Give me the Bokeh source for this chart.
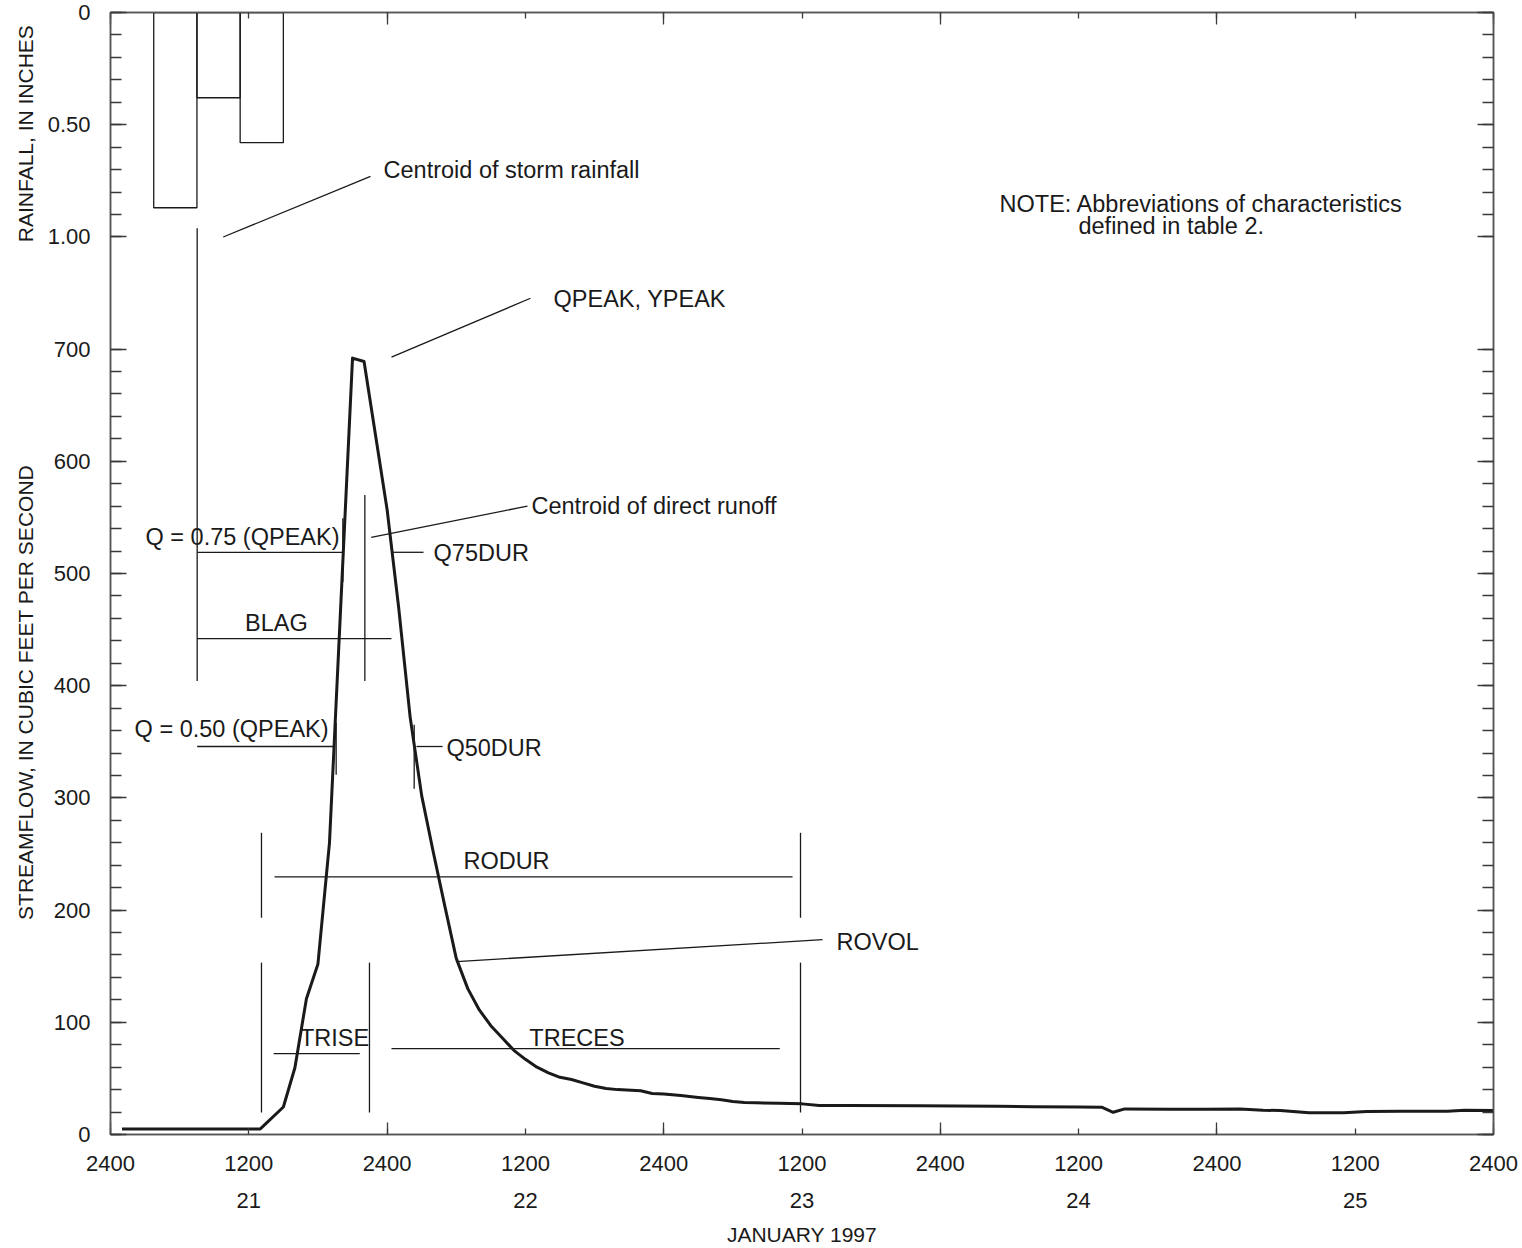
from bokeh.plotting import figure
from bokeh.layouts import row
from bokeh.models import Range1d, LinearAxis, FixedTicker, ColumnDataSource
from bokeh.core.properties import value
from bokeh.embed import file_html
from bokeh.resources import INLINE
import math

# ---------------- data ----------------
# hours after 2400 on January 20, 1997
hours = [1, 13, 15, 16, 17, 18, 19, 20, 21, 22,
         23, 24, 25, 26, 27, 28, 29, 30, 31, 32,
         33, 34, 35, 36, 37, 38, 39, 40, 41, 42,
         43, 44, 46, 47, 48, 49.5, 51, 52, 53, 54,
         55, 56, 58, 60, 61.5, 64, 70, 77, 80, 84,
         86, 87, 88, 92, 95, 98, 100, 101.5, 104, 107,
         109, 112, 116, 117.5, 120]
streamflow = [5, 5, 24.5, 59.5, 121, 152, 260, 476, 692, 689,
              623, 557, 470, 372, 302, 252, 204, 157, 130, 111,
              97, 86, 75, 67, 60, 55, 51, 49, 46, 43,
              41, 40, 39, 36.5, 36, 34.7, 33, 32, 31, 29.5,
              28.5, 28.2, 27.9, 27.3, 25.9, 25.8, 25.6, 25.2, 24.8, 24.5,
              24.3, 19.8, 22.8, 22.6, 22.6, 22.8, 21.6, 21.4, 19.3, 19.3,
              20.5, 20.8, 20.8, 21.6, 21.4]

rain_start = [3.75, 7.5, 11.25]
rain_end = [7.5, 11.25, 15.0]
rain_depth = [0.87, 0.38, 0.58]

x_ticks = [0, 12, 24, 36, 48, 60, 72, 84, 96, 108, 120]
x_tick_labels = ["2400", "1200", "2400", "1200", "2400", "1200",
                 "2400", "1200", "2400", "1200", "2400"]
day_ticks = [12, 36, 60, 84, 108]
day_labels = ["21", "22", "23", "24", "25"]

flow_major = [0, 100, 200, 300, 400, 500, 600, 700]
flow_minor = list(range(0, 701, 20))
rain_major = [0.0, 0.5, 1.0]
rain_major_labels = ["0", "0.50", "1.00"]
rain_minor = [0.1 * i for i in range(0, 11)]

# annotation lines (hours, cfs)
seg_x0 = [7.52, 9.78, 24.38, 22.07, 22.62, 7.52, 20.16, 24.47, 7.52, 7.52, 19.58,
          26.55, 26.35, 13.10, 59.87, 14.23, 30.02, 13.10, 22.47, 59.87, 14.16, 24.38]
seg_y0 = [807.7, 799.9, 692.8, 569.9, 532.2, 518.9, 549.2, 518.9, 441.9, 345.8, 366.9,
          345.8, 365.1, 268.9, 268.9, 229.7, 154.1, 153.2, 153.2, 153.2, 72.1, 76.6]
seg_x1 = [7.52, 22.56, 36.44, 22.07, 36.18, 20.10, 20.16, 27.16, 24.38, 19.32, 19.58,
          28.81, 26.35, 13.10, 59.87, 59.18, 61.78, 13.10, 22.47, 59.87, 21.63, 58.07]
seg_y1 = [404.3, 853.9, 745.3, 404.3, 560.1, 518.9, 492.4, 518.9, 441.9, 345.8, 320.6,
          345.8, 308.1, 193.2, 193.2, 229.7, 173.6, 19.6, 19.6, 19.6, 72.1, 76.6]

note_text = ["Centroid of storm rainfall", "NOTE: Abbreviations of characteristics",
             "defined in table 2.", "QPEAK, YPEAK", "Centroid of direct runoff",
             "Q = 0.75 (QPEAK)", "Q75DUR", "BLAG", "Q = 0.50 (QPEAK)", "Q50DUR",
             "RODUR", "ROVOL", "TRISE", "TRECES"]
note_x = [23.69, 77.14, 83.99, 38.44, 36.53, 19.87, 28.03, 14.40, 18.92, 29.15,
          34.36, 63.0, 19.44, 40.48]
note_y = [859.3, 829.3, 809.9, 744.4, 560.1, 532.5, 518.7, 455.5, 361.5, 344.6,
          244.0, 171.9, 86.4, 86.4]
note_align = ["left", "left", "left", "left", "left", "right", "left", "center",
              "right", "left", "center", "left", "center", "center"]

axis_titles = ["RAINFALL, IN INCHES", "STREAMFLOW, IN CUBIC FEET PER SECOND"]
axis_title_y = [892, 394]

# ---------------- figure ----------------
FONT = "Liberation Sans"
TXT = "#1a1a1a"
AX = "#555555"
TITLE_W = 40

x_range = Range1d(0, 120)
y_range = Range1d(0, 1000)
rain_range = Range1d(start=5, end=0)

p = figure(width=1522 - TITLE_W, height=1248, x_range=x_range, y_range=y_range,
           output_backend="svg", toolbar_location=None,
           x_axis_location=None, y_axis_location=None,
           min_border_left=110 - TITLE_W, min_border_right=29,
           min_border_top=12, min_border_bottom=113)
p.extra_y_ranges = {"rain": rain_range}
p.background_fill_color = "white"
p.border_fill_color = "white"
p.outline_line_color = AX
p.outline_line_width = 1.5
for g in p.grid:
    g.visible = False


def rain_to_flow(r):
    y0, y1 = y_range.start, y_range.end
    return y0 + (r - rain_range.start) / (rain_range.end - rain_range.start) * (y1 - y0)


y_major = flow_major + [int(round(rain_to_flow(r))) for r in rain_major]
y_minor = flow_minor + [int(round(rain_to_flow(r))) for r in rain_minor]
y_overrides = {int(round(rain_to_flow(r))): lab for r, lab in zip(rain_major, rain_major_labels)}


def style(ax):
    ax.axis_line_color = AX
    ax.axis_line_width = 1.5
    ax.major_tick_line_color = "#3a3a3a"
    ax.minor_tick_line_color = "#3a3a3a"
    ax.major_tick_line_width = 1.3
    ax.minor_tick_line_width = 1.3
    ax.major_tick_out = 0
    ax.minor_tick_out = 0
    ax.major_label_text_font = FONT
    ax.major_label_text_font_size = "22px"
    ax.major_label_text_color = TXT
    ax.axis_label_text_font = FONT
    ax.axis_label_text_font_size = "21px"
    ax.axis_label_text_font_style = "normal"
    ax.axis_label_text_color = TXT


left = LinearAxis(ticker=FixedTicker(ticks=y_major, minor_ticks=y_minor),
                  major_label_overrides=y_overrides)
style(left)
left.major_tick_in = 16
left.minor_tick_in = 11
left.major_label_standoff = 20
p.add_layout(left, "left")

right = LinearAxis(ticker=FixedTicker(ticks=y_major, minor_ticks=y_minor))
style(right)
right.major_tick_in = 16
right.minor_tick_in = 11
right.major_label_text_color = None
p.add_layout(right, "right")

bottom = LinearAxis(ticker=FixedTicker(ticks=x_ticks, minor_ticks=x_ticks[::2]),
                    major_label_overrides=dict(zip(x_ticks, x_tick_labels)))
style(bottom)
bottom.major_tick_in = 6
bottom.minor_tick_in = 12
bottom.major_label_standoff = 21
p.add_layout(bottom, "below")

days = LinearAxis(ticker=FixedTicker(ticks=day_ticks, minor_ticks=[]),
                  major_label_overrides=dict(zip(day_ticks, day_labels)),
                  axis_label="JANUARY 1997")
style(days)
days.axis_line_color = None
days.major_tick_line_color = None
days.minor_tick_line_color = None
days.major_tick_in = 0
days.minor_tick_in = 0
days.major_label_standoff = 19
days.axis_label_standoff = 12
p.add_layout(days, "below")

top = LinearAxis(ticker=FixedTicker(ticks=x_ticks, minor_ticks=x_ticks[::2]))
style(top)
top.major_tick_in = 6
top.minor_tick_in = 12
top.major_label_text_color = None
p.add_layout(top, "above")

# rainfall bars (hanging from the top)
p.quad(left=rain_start, right=rain_end, top=[0] * len(rain_depth), bottom=rain_depth,
       y_range_name="rain", fill_color=None, line_color="#1a1a1a", line_width=1.3)

# annotation lines
p.segment(x0=seg_x0, y0=seg_y0, x1=seg_x1, y1=seg_y1, line_color="#1a1a1a", line_width=1.3)

# hydrograph
p.line(hours, streamflow, line_color="#1a1a1a", line_width=3, line_join="round")

# annotation texts
src = ColumnDataSource(dict(x=note_x, y=note_y, text=note_text, align=note_align))
p.text(x="x", y="y", text="text", text_align="align", source=src,
       text_baseline="alphabetic", text_font=value(FONT),
       text_font_size=value("23.5px"), text_color=TXT)

# ---------------- axis-title strip (shares the streamflow scale) ----------------
tp = figure(width=TITLE_W, height=1248, x_range=Range1d(0, TITLE_W), y_range=y_range,
            output_backend="svg", toolbar_location=None,
            x_axis_location=None, y_axis_location=None,
            min_border_left=0, min_border_right=0,
            min_border_top=12, min_border_bottom=113)
tp.outline_line_color = None
tp.background_fill_color = "white"
tp.border_fill_color = "white"
for g in tp.grid:
    g.visible = False
tsrc = ColumnDataSource(dict(x=[25, 25], y=axis_title_y, text=axis_titles))
tp.text(x="x", y="y", text="text", source=tsrc, angle=math.pi / 2,
        text_align="center", text_baseline="middle", text_font=value(FONT),
        text_font_size=value("21px"), text_color=TXT)

layout = row(tp, p)
open("out.html", "w").write(file_html(layout, INLINE))
